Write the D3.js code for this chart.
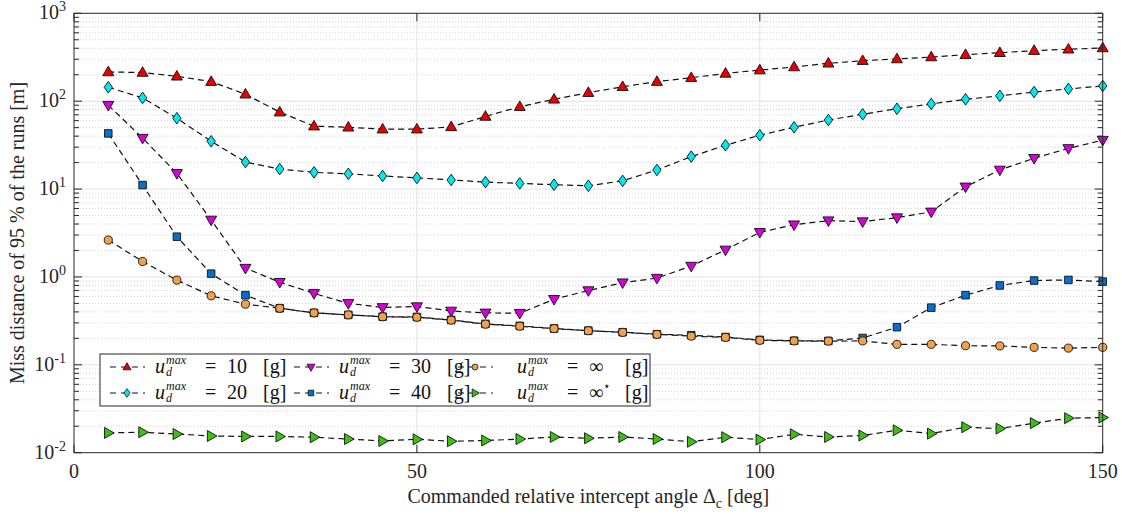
<!DOCTYPE html>
<html>
<head>
<meta charset="utf-8">
<script src="https://cdn.jsdelivr.net/npm/d3@7"></script>
<style>
    body { margin: 0; background: #fff; }
    svg { display: block; }
    svg text { font-family: "Liberation Serif", "Times New Roman", Times, "DejaVu Serif", "Noto Serif", serif; }
</style>
</head>
<body>
<svg id="chart" width="1122" height="514"></svg>
<script>
// commanded relative intercept angle [deg]
const angles = [5, 10, 15, 20, 25, 30, 35, 40, 45, 50, 55, 60, 65, 70, 75,
    80, 85, 90, 95, 100, 105, 110, 115, 120, 125, 130, 135, 140, 145, 150]

// miss distance of 95 % of the runs [m]
const miss10 = [215, 212, 192, 167, 120, 75, 52, 50.5, 48, 48, 51, 67, 86.5, 105, 125,
    146, 167, 185, 207, 226, 245, 270, 289, 302, 318, 338, 356, 376, 390, 403]
const miss20 = [144, 109, 64, 35, 20.3, 16.9, 15.5, 14.9, 14.1, 13.4, 12.7, 12.0, 11.6, 11.2, 10.9,
    12.4, 16.5, 23.4, 31.5, 41, 50.5, 61, 71, 82, 93, 105, 115, 127, 138, 149]
const miss30 = [90, 38, 15.1, 4.45, 1.26, 0.87, 0.65, 0.50, 0.45, 0.46, 0.41, 0.39, 0.386, 0.557, 0.70,
    0.86, 0.97, 1.33, 2.03, 3.22, 3.93, 4.37, 4.26, 4.73, 5.5, 10.6, 16.5, 22.4, 29, 36]
const miss40 = [43, 11.1, 2.87, 1.09, 0.62, 0.44, 0.39, 0.37, 0.353, 0.35, 0.324, 0.292, 0.277, 0.259, 0.245,
    0.235, 0.223, 0.217, 0.207, 0.192, 0.188, 0.187, 0.202, 0.268, 0.447, 0.62, 0.80, 0.91, 0.925, 0.885]
const missInf = [2.63, 1.5, 0.92, 0.61, 0.49, 0.44, 0.39, 0.37, 0.352, 0.348, 0.322, 0.29, 0.275, 0.258, 0.244,
    0.234, 0.222, 0.212, 0.205, 0.19, 0.187, 0.186, 0.187, 0.171, 0.171, 0.165, 0.164, 0.158, 0.155, 0.158]
const missInfStar = [0.0168, 0.0171, 0.0163, 0.0155, 0.0153, 0.0153, 0.015, 0.0143, 0.0136, 0.0142, 0.0135, 0.01375, 0.0143, 0.0151, 0.0146,
    0.0151, 0.0143, 0.0133, 0.015, 0.0141, 0.0162, 0.0151, 0.0157, 0.018, 0.0165, 0.0195, 0.0188, 0.0217, 0.0247, 0.0251]

const legendValues = ["10", "20", "30", "40", "\u221E", "\u221E"]
const xTicks = [0, 50, 100, 150]
const yTickExps = [-2, -1, 0, 1, 2, 3]

const series = [
    { values: miss10, marker: "up", color: "#e80000" },
    { values: miss20, marker: "diamond", color: "#00e8f0" },
    { values: miss30, marker: "down", color: "#d800d8" },
    { values: miss40, marker: "square", color: "#0a6fcc" },
    { values: missInf, marker: "circle", color: "#f2a04c" },
    { values: missInfStar, marker: "right", color: "#3cc012" },
]

const width = 1122, height = 514
const margin = { top: 13.3, right: 19.3, bottom: 61.3, left: 74 }
const innerW = width - margin.left - margin.right
const innerH = height - margin.top - margin.bottom

const svg = d3.select("#chart")
const g = svg.append("g").attr("transform", `translate(${margin.left},${margin.top})`)

const x = d3.scaleLinear().domain([0, 150]).range([0, innerW])
const y = d3.scaleLog().domain([1e-2, 1e3]).range([innerH, 0])

// minor log positions 2..9 of each decade
const minorVals = []
yTickExps.slice(0, -1).forEach(e => {
    for (let m = 2; m <= 9; m++) minorVals.push(m * Math.pow(10, e))
})
const majorVals = yTickExps.map(e => Math.pow(10, e))

// grid
g.append("g").selectAll("line").data(minorVals).join("line")
    .attr("x1", 0).attr("x2", innerW)
    .attr("y1", d => y(d)).attr("y2", d => y(d))
    .attr("stroke", "#d4d4d4").attr("stroke-width", 1)
    .attr("stroke-dasharray", "1,2")
g.append("g").selectAll("line").data(majorVals.slice(1, -1)).join("line")
    .attr("x1", 0).attr("x2", innerW)
    .attr("y1", d => y(d)).attr("y2", d => y(d))
    .attr("stroke", "#e2e2e2").attr("stroke-width", 1)
g.append("g").selectAll("line").data(xTicks.slice(1, -1)).join("line")
    .attr("x1", d => x(d)).attr("x2", d => x(d))
    .attr("y1", 0).attr("y2", innerH)
    .attr("stroke", "#e2e2e2").attr("stroke-width", 1)

// marker shapes, centred on 0,0
function markerPath(type, s) {
    switch (type) {
        case "up": return `M0,${-s} L${s * 0.95},${s * 0.65} L${-s * 0.95},${s * 0.65} Z`
        case "down": return `M0,${s} L${s * 0.95},${-s * 0.65} L${-s * 0.95},${-s * 0.65} Z`
        case "right": return `M${s},0 L${-s * 0.65},${s * 0.95} L${-s * 0.65},${-s * 0.95} Z`
        case "diamond": return `M0,${-s} L${s * 0.72},0 L0,${s} L${-s * 0.72},0 Z`
        case "square": return `M${-s * 0.65},${-s * 0.65} h${s * 1.3} v${s * 1.3} h${-s * 1.3} Z`
        case "circle": return d3.symbol(d3.symbolCircle, Math.PI * (s * 0.7) * (s * 0.7))()
    }
}

const line = d3.line().x(d => x(d[0])).y(d => y(d[1]))

series.forEach(s => {
    const pts = angles.map((a, i) => [a, s.values[i]])
    const sg = g.append("g")
    sg.append("path")
        .attr("d", line(pts))
        .attr("fill", "none")
        .attr("stroke", "#111")
        .attr("stroke-width", 1.2)
        .attr("stroke-dasharray", "6,4")
    sg.selectAll("path.mk").data(pts).join("path")
        .attr("class", "mk")
        .attr("transform", d => `translate(${x(d[0])},${y(d[1])})`)
        .attr("d", markerPath(s.marker, 5.8))
        .attr("fill", s.color)
        .attr("stroke", "#111")
        .attr("stroke-width", 0.9)
})

// axis box and ticks
const axisColor = "#262626"
g.append("rect")
    .attr("width", innerW).attr("height", innerH)
    .attr("fill", "none").attr("stroke", axisColor).attr("stroke-width", 1)

const ticks = g.append("g").attr("stroke", axisColor).attr("stroke-width", 1)
ticks.selectAll("line.ymaj").data(majorVals).join("line").attr("class", "ymaj")
    .attr("x1", 0).attr("x2", 8).attr("y1", d => y(d)).attr("y2", d => y(d))
ticks.selectAll("line.ymajR").data(majorVals).join("line").attr("class", "ymajR")
    .attr("x1", innerW - 8).attr("x2", innerW).attr("y1", d => y(d)).attr("y2", d => y(d))
ticks.selectAll("line.ymin").data(minorVals).join("line").attr("class", "ymin")
    .attr("x1", 0).attr("x2", 5).attr("y1", d => y(d)).attr("y2", d => y(d))
ticks.selectAll("line.yminR").data(minorVals).join("line").attr("class", "yminR")
    .attr("x1", innerW - 5).attr("x2", innerW).attr("y1", d => y(d)).attr("y2", d => y(d))
ticks.selectAll("line.xb").data(xTicks).join("line").attr("class", "xb")
    .attr("x1", d => x(d)).attr("x2", d => x(d)).attr("y1", innerH).attr("y2", innerH - 8)
ticks.selectAll("line.xt").data(xTicks).join("line").attr("class", "xt")
    .attr("x1", d => x(d)).attr("x2", d => x(d)).attr("y1", 0).attr("y2", 8)

// tick labels
const textColor = "#262626"
g.append("g").selectAll("text").data(xTicks).join("text")
    .attr("x", d => x(d)).attr("y", innerH + 25)
    .attr("text-anchor", "middle")
    .attr("font-size", 20).attr("fill", textColor)
    .text(d => d)

const yLab = g.append("g").selectAll("text").data(yTickExps).join("text")
    .attr("x", -8).attr("y", d => y(Math.pow(10, d)) + 6)
    .attr("text-anchor", "end")
    .attr("font-size", 20).attr("fill", textColor)
yLab.append("tspan").text("10")
yLab.append("tspan").attr("dy", -8).attr("font-size", 14).text(d => d)

// axis titles
const xTitle = svg.append("text")
    .attr("x", margin.left + innerW / 2).attr("y", 503)
    .attr("text-anchor", "middle").attr("font-size", 20).attr("fill", textColor)
xTitle.append("tspan").text("Commanded relative intercept angle \u0394")
xTitle.append("tspan").attr("dy", 5).attr("font-size", 14).text("c")
xTitle.append("tspan").attr("dy", -5).text(" [deg]")

svg.append("text")
    .attr("transform", `translate(24,${margin.top + innerH / 2}) rotate(-90)`)
    .attr("text-anchor", "middle").attr("font-size", 20).attr("fill", textColor)
    .text("Miss distance of 95 % of the runs [m]")

// legend
const legend = g.append("g").attr("transform", `translate(${100 - margin.left},${354 - margin.top})`)
legend.append("rect")
    .attr("width", 550).attr("height", 52)
    .attr("fill", "#fff").attr("stroke", axisColor).attr("stroke-width", 1)

const colMarker = [27, 211, 375]
const colText = [55, 239, 417]
const rowY = [13, 39]
const legendOrder = [0, 2, 4, 1, 3, 5]

legendOrder.forEach((si, k) => {
    const col = k % 3, row = Math.floor(k / 3)
    const s = series[si]
    const item = legend.append("g").attr("transform", `translate(0,${rowY[row]})`)
    item.append("line")
        .attr("x1", colMarker[col] - 18).attr("x2", colMarker[col] + 18)
        .attr("stroke", "#111").attr("stroke-width", 1.2).attr("stroke-dasharray", "6,5")
        .attr("stroke-dashoffset", -1)
    item.append("path")
        .attr("transform", `translate(${colMarker[col]},0)`)
        .attr("d", markerPath(s.marker, 4.3))
        .attr("fill", s.color).attr("stroke", "#111").attr("stroke-width", 0.8)

    // one text element: u, superscript max, subscript d, = value [g]
    const tx = colText[col]
    const t = item.append("text").attr("x", tx).attr("y", 6)
        .attr("font-size", 20).attr("fill", "#111")
    t.append("tspan").attr("font-style", "italic").text("u")
    t.append("tspan").attr("x", tx + 11).attr("y", -3)
        .attr("font-size", 12).attr("font-style", "italic").text("max")
    t.append("tspan").attr("x", tx + 11).attr("y", 9)
        .attr("font-size", 12).attr("font-style", "italic").text("d")
    t.append("tspan").attr("x", tx + 50).attr("y", 6).text("=")
    t.append("tspan").attr("x", tx + 72).attr("y", 6).text(legendValues[si])
    if (si === 5) t.append("tspan").attr("y", -3).attr("font-size", 12).text("\u22C6")
    t.append("tspan").attr("x", tx + 108).attr("y", 6).text("[g]")
})
</script>
</body>
</html>
